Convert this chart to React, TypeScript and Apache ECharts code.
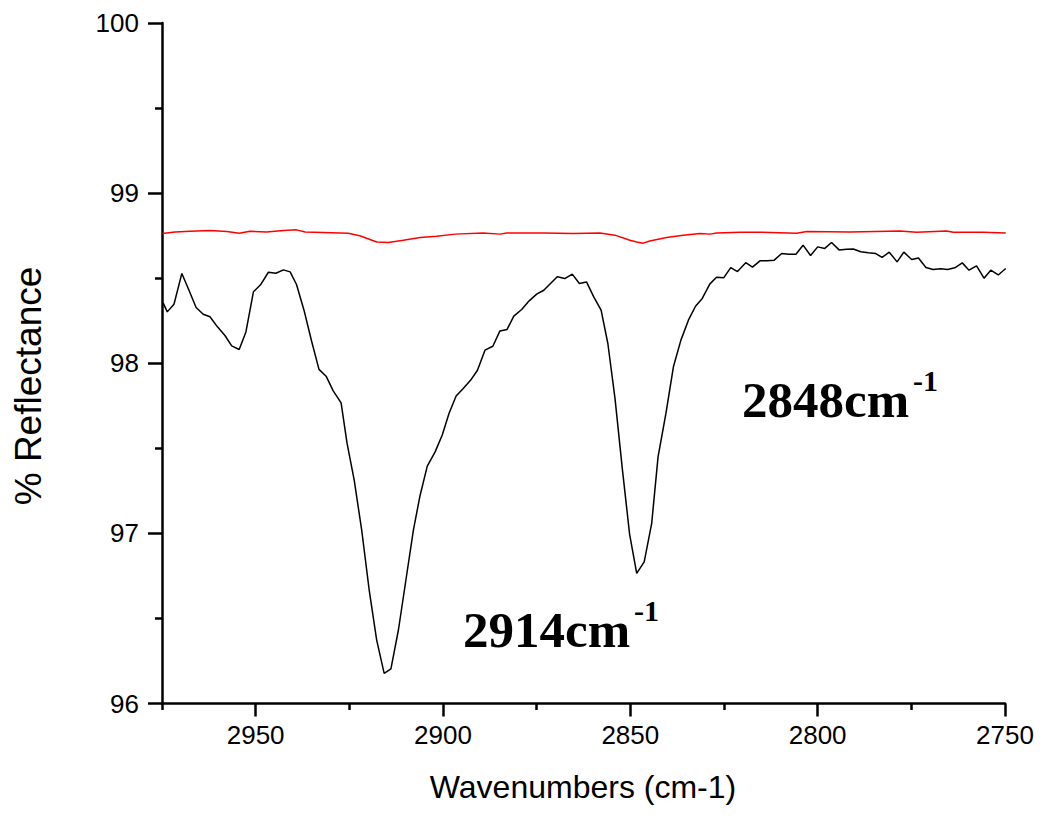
import React, { useEffect, useRef } from "react";
import * as echarts from "echarts";

// Sample spectrum (black)
const sampleWavenumbers = [
  2974.7, 2973.6, 2971.8, 2969.7, 2967.8, 2965.9, 2964.0, 2962.2, 2960.2, 2958.2,
  2956.4, 2954.4, 2952.6, 2950.6, 2948.7, 2946.6, 2944.6, 2942.6, 2940.8, 2939.1,
  2937.1, 2935.1, 2933.1, 2931.2, 2929.3, 2927.2, 2925.6, 2923.7, 2921.7, 2919.7,
  2917.7, 2915.7, 2913.9, 2911.9, 2909.9, 2907.9, 2906.2, 2904.2, 2902.1, 2900.2,
  2898.4, 2896.5, 2894.6, 2892.6, 2890.8, 2888.8, 2886.7, 2884.8, 2882.9, 2881.1,
  2879.0, 2877.0, 2875.0, 2873.1, 2871.3, 2869.5, 2867.5, 2865.5, 2863.6, 2861.7,
  2859.7, 2857.8, 2856.0, 2854.1, 2852.1, 2850.2, 2848.3, 2846.3, 2844.3, 2842.6,
  2840.5, 2838.5, 2836.5, 2834.5, 2832.6, 2830.8, 2828.8, 2827.0, 2825.1, 2823.2,
  2821.4, 2819.2, 2817.4, 2815.4, 2813.5, 2811.6, 2809.6, 2807.7, 2805.8, 2803.9,
  2801.9, 2800.0, 2798.1, 2796.3, 2794.2, 2792.3, 2790.5, 2788.5, 2786.5, 2784.5,
  2782.8, 2780.9, 2778.8, 2777.0, 2774.9, 2773.1, 2771.1, 2769.2, 2767.2, 2765.3,
  2763.4, 2761.4, 2759.6, 2757.6, 2755.6, 2753.8, 2751.8, 2749.8,
];
const sampleReflectance = [
  98.355, 98.302, 98.347, 98.528, 98.429, 98.328, 98.288, 98.273, 98.214, 98.163,
  98.102, 98.081, 98.184, 98.420, 98.461, 98.535, 98.529, 98.549, 98.537, 98.463,
  98.312, 98.132, 97.964, 97.924, 97.838, 97.767, 97.529, 97.313, 97.019, 96.667,
  96.373, 96.177, 96.203, 96.432, 96.726, 97.019, 97.215, 97.395, 97.479, 97.578,
  97.705, 97.807, 97.852, 97.901, 97.959, 98.077, 98.100, 98.190, 98.199, 98.277,
  98.316, 98.367, 98.406, 98.429, 98.469, 98.508, 98.498, 98.524, 98.469, 98.478,
  98.387, 98.312, 98.116, 97.795, 97.372, 96.996, 96.765, 96.833, 97.059, 97.450,
  97.705, 97.979, 98.136, 98.253, 98.335, 98.381, 98.465, 98.506, 98.502, 98.562,
  98.539, 98.591, 98.565, 98.602, 98.602, 98.606, 98.645, 98.641, 98.641, 98.694,
  98.633, 98.684, 98.675, 98.710, 98.665, 98.670, 98.672, 98.655, 98.649, 98.645,
  98.622, 98.653, 98.596, 98.653, 98.610, 98.619, 98.563, 98.551, 98.555, 98.551,
  98.561, 98.590, 98.547, 98.572, 98.500, 98.547, 98.519, 98.557,
];

// Reference spectrum (red)
const refWavenumbers = [
  2974.9, 2971.5, 2967.5, 2962.2, 2957.7, 2954.4, 2951.5, 2947.1, 2942.6, 2939.1,
  2936.8, 2932.0, 2925.3, 2922.2, 2917.7, 2914.6, 2910.6, 2906.1, 2901.7, 2896.8,
  2889.3, 2884.8, 2883.0, 2873.2, 2865.2, 2858.1, 2854.1, 2850.1, 2848.3, 2846.6,
  2844.8, 2840.3, 2835.9, 2831.4, 2828.7, 2827.0, 2820.7, 2815.4, 2805.6, 2802.9,
  2791.4, 2778.0, 2773.6, 2765.6, 2763.8, 2755.8, 2749.8,
];
const refReflectance = [
  98.763, 98.772, 98.776, 98.780, 98.774, 98.764, 98.776, 98.772, 98.780, 98.784,
  98.772, 98.769, 98.764, 98.749, 98.713, 98.710, 98.723, 98.739, 98.747, 98.759,
  98.766, 98.759, 98.766, 98.766, 98.763, 98.766, 98.753, 98.723, 98.713, 98.706,
  98.719, 98.739, 98.753, 98.763, 98.759, 98.766, 98.770, 98.770, 98.764, 98.774,
  98.772, 98.778, 98.770, 98.778, 98.770, 98.770, 98.766,
];

const xMajorTicks = [2750, 2800, 2850, 2900, 2950];
const xMinorTicks = [2775, 2825, 2875, 2925, 2975];

const X_MIN = 2750;
const X_MAX = 2975;

export default function App() {
  const ref = useRef<HTMLDivElement>(null);

  useEffect(() => {
    if (!ref.current) return;
    const chart = echarts.init(ref.current, null, { renderer: "svg" });
    const sans = "'Liberation Sans', Arial, Helvetica, sans-serif";
    const serif = "'Liberation Serif', 'Times New Roman', serif";
    const axisLine = { show: true, lineStyle: { color: "#000", width: 2.5 } };

    chart.setOption({
      animation: false,
      backgroundColor: "#fff",
      grid: { left: 162, right: 45, top: 23, bottom: 115.5, containLabel: false },
      xAxis: [
        {
          type: "value",
          inverse: true,
          min: X_MIN,
          max: X_MAX,
          interval: 50,
          axisLine,
          axisTick: {
            show: true,
            length: 13,
            lineStyle: { color: "#000", width: 2.5 },
            customValues: xMajorTicks,
          },
          axisLabel: {
            show: true,
            customValues: xMajorTicks,
            formatter: (v: number) => String(v),
            color: "#000",
            fontFamily: sans,
            fontSize: 26,
            margin: 18,
          },
          splitLine: { show: false },
        },
        {
          type: "value",
          inverse: true,
          min: X_MIN,
          max: X_MAX,
          position: "bottom",
          axisLine: { show: false },
          axisTick: {
            show: true,
            length: 6.5,
            lineStyle: { color: "#000", width: 2.5 },
            customValues: xMinorTicks,
          },
          axisLabel: { show: false },
          splitLine: { show: false },
        },
      ],
      yAxis: {
        type: "value",
        min: 96,
        max: 100,
        interval: 1,
        axisLine,
        axisTick: { show: true, length: 14, lineStyle: { color: "#000", width: 2.5 } },
        minorTick: { show: true, splitNumber: 2, length: 7, lineStyle: { color: "#000", width: 2.5 } },
        axisLabel: {
          color: "#000",
          fontFamily: sans,
          fontSize: 26,
          margin: 23,
          formatter: (v: number) => String(v),
        },
        splitLine: { show: false },
        minorSplitLine: { show: false },
      },
      series: [
        {
          type: "line",
          name: "reference",
          data: refWavenumbers.map((w, i) => [w, refReflectance[i]]),
          showSymbol: false,
          symbol: "none",
          lineStyle: { color: "#ff0000", width: 1.5 },
          clip: true,
        },
        {
          type: "line",
          name: "sample",
          data: sampleWavenumbers.map((w, i) => [w, sampleReflectance[i]]),
          showSymbol: false,
          symbol: "none",
          lineStyle: { color: "#000", width: 1.5 },
          clip: true,
        },
      ],
      graphic: [
        {
          type: "text",
          x: 583,
          y: 787,
          style: {
            text: "Wavenumbers (cm-1)",
            fontFamily: sans,
            fontSize: 32,
            fill: "#000",
            align: "center",
            verticalAlign: "middle",
          },
        },
        {
          type: "text",
          x: 28,
          y: 386,
          rotation: Math.PI / 2,
          style: {
            text: "% Reflectance",
            fontFamily: sans,
            fontSize: 37,
            fill: "#000",
            align: "center",
            verticalAlign: "middle",
          },
        },
        {
          type: "text",
          x: 463,
          y: 630,
          style: {
            text: "2914cm",
            fontFamily: serif,
            fontWeight: "bold",
            fontSize: 51,
            fill: "#000",
            align: "left",
            verticalAlign: "middle",
          },
        },
        {
          type: "text",
          x: 634,
          y: 610,
          style: {
            text: "-1",
            fontFamily: serif,
            fontWeight: "bold",
            fontSize: 30,
            fill: "#000",
            align: "left",
            verticalAlign: "middle",
          },
        },
        {
          type: "text",
          x: 742,
          y: 400,
          style: {
            text: "2848cm",
            fontFamily: serif,
            fontWeight: "bold",
            fontSize: 51,
            fill: "#000",
            align: "left",
            verticalAlign: "middle",
          },
        },
        {
          type: "text",
          x: 913,
          y: 380,
          style: {
            text: "-1",
            fontFamily: serif,
            fontWeight: "bold",
            fontSize: 30,
            fill: "#000",
            align: "left",
            verticalAlign: "middle",
          },
        },
      ],
    });

    return () => chart.dispose();
  }, []);

  return (
    <div
      ref={ref}
      style={{ position: "absolute", left: 0, top: 0, width: 1050, height: 819, background: "#fff" }}
    />
  );
}
